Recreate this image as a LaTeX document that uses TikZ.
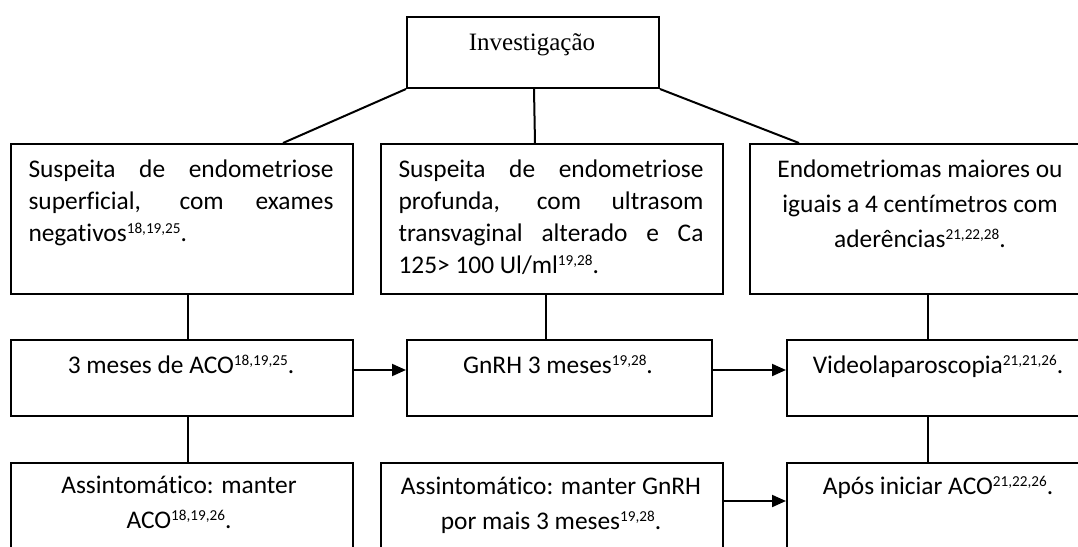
\documentclass[tikz,border=0pt]{standalone}
\usepackage{fontspec}
\setmainfont{Carlito}[Ligatures=NoCommon]
\newfontfamily\timesf{Liberation Serif}
\usetikzlibrary{arrows.meta}
\newcommand{\fstrut}{\rule{0pt}{12pt}}
\newcommand{\sups}[1]{\raisebox{4.2pt}{\fontsize{7.6}{8}\selectfont #1}}
\begin{document}
\begin{tikzpicture}[x=0.5pt,y=-0.5pt,
  box/.style={draw, line width=1pt, inner sep=0pt, anchor=north west},
  txt/.style={inner sep=0pt, anchor=north, font=\fontsize{12.7}{17.6}\selectfont},
  jtxt/.style={txt, text width=152.5pt, align=justify, font=\fontsize{12.7}{16}\selectfont},
  ctxt/.style={txt, align=center},
  link/.style={line width=1pt},
  thinlink/.style={line width=0.6pt},
  arr/.style={line width=1pt, -{Triangle[length=7pt,width=6pt]}}
]
\useasboundingbox (0,0) rectangle (1078,547);
\clip (0,0) rectangle (1078,547);

% boxes
\node[box, minimum width=126pt, minimum height=35.5pt] (top) at (406,16) {};
\node[box, minimum width=171pt, minimum height=75pt] (L2a) at (10,143) {};
\node[box, minimum width=171pt, minimum height=75pt] (L2b) at (380,143) {};
\node[box, minimum width=171pt, minimum height=75pt] (L2c) at (749,143) {};
\node[box, minimum width=171pt, minimum height=38pt] (L3a) at (10,339) {};
\node[box, minimum width=152.5pt, minimum height=38pt] (L3b) at (406,339) {};
\node[box, minimum width=152.5pt, minimum height=38pt] (L3c) at (786,339) {};
\node[box, minimum width=171pt, minimum height=69pt] (L4a) at (10,462) {};
\node[box, minimum width=171pt, minimum height=69pt] (L4b) at (380,462) {};
\node[box, minimum width=152.5pt, minimum height=69pt] (L4c) at (786,462) {};

% texts
\node[txt, font=\timesf\fontsize{12.5}{15}\selectfont] (ttop) at (532,26) {\fstrut Investigação};
\node[jtxt] (t2a) at (181,153) {\fstrut Suspeita de endometriose\linebreak superficial, com exames\linebreak negativos\sups{18,19,25}.};
\node[jtxt] (t2b) at (551,153) {\fstrut Suspeita de endometriose\linebreak profunda, com ultrasom\linebreak transvaginal alterado e Ca\linebreak 125> 100 Ul/ml\sups{19,28}.};
\node[ctxt] (t2c) at (920,153) {\fstrut Endometriomas maiores ou\\ iguais a 4 centímetros com\\ aderências\sups{21,22,28}.};
\node[ctxt] (t3a) at (181,349) {\fstrut 3 meses de ACO\sups{18,19,25}.};
\node[ctxt] (t3b) at (558,349) {\fstrut GnRH 3 meses\sups{19,28}.};
\node[ctxt] (t3c) at (938,349) {\fstrut Videolaparoscopia\sups{21,21,26}.};
\node[ctxt] (t4a) at (179,469) {\fstrut Assintomático: manter\\ ACO\sups{18,19,26}.};
\node[ctxt] (t4b) at (551,470) {\fstrut Assintomático: manter GnRH\\ por mais 3 meses\sups{19,28}.};
\node[ctxt] (t4c) at (938,470) {\fstrut Após iniciar ACO\sups{21,22,26}.};

% connectors
\draw[link] (top.south west) -- ([xshift=50.5pt]L2a.north);
\draw[link] ([xshift=0.5pt]top.south) -- ([xshift=-8.5pt]L2b.north);
\draw[link] (top.south east) -- ([xshift=-61pt]L2c.north);
\draw[link] ([xshift=3pt]L2a.south) -- ([xshift=3pt]L3a.north);
\draw[link] ([xshift=-3pt]L2b.south) -- ([xshift=-6.75pt]L3b.north);
\draw[thinlink] ([xshift=3.5pt,yshift=1pt]L2c.south) -- ([xshift=-5.75pt]L3c.north);
\draw[link] ([xshift=3pt]L3a.south) -- ([xshift=3pt]L4a.north);
\draw[thinlink] ([xshift=-5.75pt]L3c.south) -- ([xshift=-5.75pt]L4c.north);
\draw[arr] ([yshift=4pt]L3a.east) -- ([yshift=4pt]L3b.west);
\draw[arr] ([yshift=4pt]L3b.east) -- ([yshift=4pt]L3c.west);
\draw[arr] ([yshift=15.5pt]L4b.east) -- ([yshift=15.5pt]L4c.west);
\end{tikzpicture}
\end{document}
